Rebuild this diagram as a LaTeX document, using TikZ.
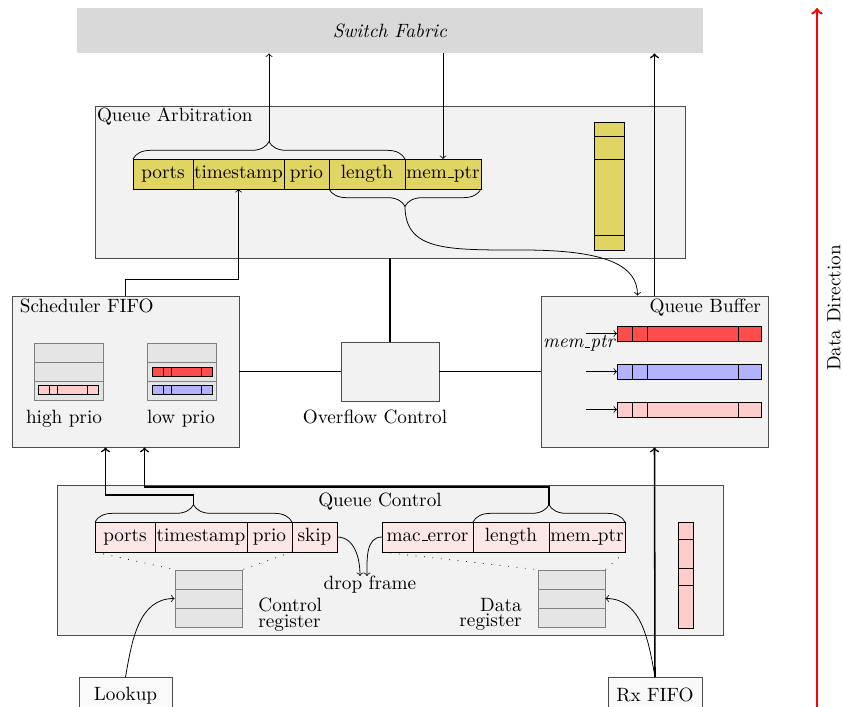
\documentclass[tikz,border=0pt]{standalone}
\usepackage{xcolor}
\usepackage{tikz}
\usetikzlibrary{calc, positioning, decorations.pathreplacing}

%colours
\definecolor{fieldyellow}{RGB}{224,212,98}
\definecolor{fieldpink}{RGB}{253,230,230}

%one pixel of the layout grid
\def\px{0.52pt}

%short low rule for field names
\newcommand{\uscore}{\leavevmode\kern.06em\vbox{\hrule width.3em}}

%ticks across a packet bar (node, offsets from its west side)
\newcommand{\packetticks}[2]{%
	\foreach \off in {#2} \draw ($(#1.north west)+(\off,0)$) -- ($(#1.south west)+(\off,0)$);%
}
%rows across an upright queue (node, offsets from its top)
\newcommand{\queuerows}[2]{%
	\foreach \off in {#2} \draw ($(#1.north west)+(0,\off)$) -- ($(#1.north east)+(0,\off)$);%
}

\tikzset{
	block/.style = {draw=black!70, fill=gray!10, inner sep=0pt},
	afield/.style = {draw, fill=fieldyellow, inner sep=0pt, outer sep=0pt, minimum height=30*\px},
	cfield/.style = {draw, fill=fieldpink, inner sep=0pt, outer sep=0pt, minimum height=30*\px},
	reg/.style = {draw=gray, fill=gray!20, minimum height=19*\px, inner sep=0pt},
	packet/.style = {draw, inner sep=0pt, outer sep=0pt},
	brace/.style = {decorate, decoration={brace, amplitude=9pt}},
	bus/.style = {thick},
	io/.style = {draw=black!70, fill=gray!5, minimum height=36*\px, anchor=north}
}

\begin{document}
\begin{tikzpicture}[x=\px, y=-\px]
		\useasboundingbox (0,0) rectangle (843,707);
		
		%switch fabric
		\node[fill=gray!30, minimum width=626*\px, minimum height=45*\px] (fabric) at (390,30.5) {\textit{Switch Fabric}};
		
		%queue arbitration
		\node[block, minimum width=590*\px, minimum height=152*\px] (qarb) at (390,182) {};
		\node[anchor=north west, inner sep=0pt] (qarbname) at ($(qarb.north west)+(2,2)$) {Queue Arbitration};
		
		\node[afield, anchor=west, minimum width=60*\px] (aports) at (133,174) {ports};
		\node[afield, right=0pt of aports, minimum width=91*\px] (atime) {timestamp};
		\node[afield, right=0pt of atime, minimum width=45*\px] (aprio) {prio};
		\node[afield, right=0pt of aprio, minimum width=76*\px] (alength) {length};
		\node[afield, right=0pt of alength, minimum width=76*\px] (amemptr) {mem\uscore ptr};
		
		\draw[brace] (aports.north west) -- (alength.north east);
		\coordinate (atop) at ($(aports.north west)!0.5!(alength.north east)+(0,-17)$);
		\draw[brace] (amemptr.south east) -- (alength.south west);
		\coordinate (abot) at ($(alength.south west)!0.5!(amemptr.south east)+(0,17)$);
		
		\node[afield, anchor=north, minimum width=30*\px, minimum height=128*\px] (aqueue) at (609,122) {};
		\queuerows{aqueue}{14,37,113}
		
		%scheduler fifo
		\node[block, minimum width=227*\px, minimum height=151*\px] (sched) at (125.5,371.5) {};
		\node[anchor=north west, inner sep=0pt] (schedname) at ($(sched.north west)+(8,3)$) {Scheduler FIFO};
		
		\foreach \i in {1,2,3} {
			\node[reg, minimum width=69*\px] (hi\i) at (68.5,333.5+19*\i) {};
			\node[reg, minimum width=69*\px] (lo\i) at (182,333.5+19*\i) {};
		}
		\node[packet, fill=red!20, minimum width=60*\px, minimum height=9*\px] (hibar) at (68,389.5) {};
		\node[packet, fill=red!70, minimum width=60*\px, minimum height=9*\px] (lobar1) at (182,371.5) {};
		\node[packet, fill=blue!30, minimum width=60*\px, minimum height=9*\px] (lobar2) at (182,389.5) {};
		\packetticks{hibar}{11,19,49}
		\packetticks{lobar1}{11,19,49}
		\packetticks{lobar2}{11,19,49}
		\node (hiname) at (64,419) {high prio};
		\node (loname) at (181,419) {low prio};
		
		%overflow control
		\node[block, minimum width=98*\px, minimum height=59*\px] (ovf) at (390,371.5) {};
		\node (ovfname) at (375,417) {Overflow Control};
		
		%queue buffer
		\node[block, minimum width=227*\px, minimum height=151*\px] (qbuf) at (654.5,371.5) {};
		\node[anchor=north east, inner sep=0pt] (qbufname) at ($(qbuf.north east)+(-7,3)$) {Queue Buffer};
		\coordinate (qbin) at ($(qbuf.north)+(-17,0)$);
		
		\foreach \i/\col in {1/red!70, 2/blue!30, 3/red!20} {
			\node[packet, fill=\col, anchor=west, minimum width=144*\px, minimum height=15*\px] (buf\i) at (617,295.5+38*\i) {};
			\packetticks{buf\i}{15,30,121}
			\draw[->] ($(buf\i.west)+(-31,0)$) -- (buf\i.west);
		}
		\node[anchor=north east, inner sep=1pt, font=\itshape] (mptr) at (buf1.west) {mem\uscore ptr};
		
		%queue control
		\node[block, minimum width=666*\px, minimum height=150*\px] (qctrl) at (390,560) {};
		\node (qctrlname) at (380,502) {Queue Control};
		
		\node[cfield, anchor=west, minimum width=60*\px] (cports) at (95,537) {ports};
		\node[cfield, right=0pt of cports, minimum width=92*\px] (ctime) {timestamp};
		\node[cfield, right=0pt of ctime, minimum width=45*\px] (cprio) {prio};
		\node[cfield, right=0pt of cprio, minimum width=45*\px] (cskip) {skip};
		
		\node[cfield, anchor=west, minimum width=91*\px] (cmac) at (382,537) {mac\uscore error};
		\node[cfield, right=0pt of cmac, minimum width=76*\px] (clength) {length};
		\node[cfield, right=0pt of clength, minimum width=76*\px] (cmemptr) {mem\uscore ptr};
		
		\draw[brace] (cports.north west) -- (cprio.north east);
		\coordinate (ctop1) at ($(cports.north west)!0.5!(cprio.north east)+(0,-17)$);
		\draw[brace] (clength.north west) -- (cmemptr.north east);
		\coordinate (ctop2) at ($(clength.north west)!0.5!(cmemptr.north east)+(0,-17)$);
		
		\node[inner sep=0pt] (drop) at (370,585) {drop frame};
		
		%registers
		\foreach \i in {1,2,3} {
			\node[reg, minimum width=67*\px] (creg\i) at (208.5,560.5+19*\i) {};
			\node[reg, minimum width=67*\px] (dreg\i) at (571.5,560.5+19*\i) {};
		}
		\node[anchor=north west, align=left, inner sep=0pt] (cregname) at (258,598) {Control\\[-4pt]register};
		\node[anchor=north east, align=right, inner sep=0pt] (dregname) at (522,598) {Data\\[-4pt]register};
		
		\draw[loosely dotted] (cports.south west) -- (creg1.north west);
		\draw[loosely dotted] (cprio.south east) -- (creg1.north east);
		\draw[loosely dotted] (cmac.south west) -- (dreg1.north west);
		\draw[loosely dotted] (cmemptr.south east) -- (dreg1.north east);
		
		\node[fill=red!20, draw, inner sep=0pt, anchor=north, minimum width=15*\px, minimum height=106*\px] (cqueue) at (685.5,522) {};
		\queuerows{cqueue}{17,46,63}
		
		%inputs
		\node[io, minimum width=93*\px] (lookup) at (125.5,677) {Lookup};
		\node[io, minimum width=94*\px] (rxfifo) at (655,677) {Rx FIFO};
		
		%connections
		\draw[->] (atop) -- (atop |- fabric.south);
		\draw[->] (fabric.south -| amemptr) -- (amemptr.north);
		\coordinate (abend) at (522,250);
		\draw[->] (abot) .. controls +(0,45) and +(-75,0) .. (abend) .. controls +(85,0) and +(0,-30) .. (qbin);
		\draw[->] (sched.north) -- ++(0,-16) -| (atime.south);
		
		\draw[bus] (qarb.south) -- (ovf.north);
		\draw[bus] (sched.east) -- (ovf.west);
		\draw[bus] (ovf.east) -- (qbuf.west);
		
		\draw[bus, ->] (ctop1) -- ++(0,-10) -| ($(sched.south)+(-20,0)$);
		\draw[bus, ->] (ctop2) -- ++(0,-18) -| ($(sched.south)+(19,0)$);
		
		\draw[->] (cskip.east) to[out=0, in=90] ($(drop.north)+(-10,0)$);
		\draw[->] (cmac.west) to[out=180, in=90] ($(drop.north)+(-3,0)$);
		
		\draw[->] (lookup.north) to[out=80, in=180] (creg2.west);
		\draw[->] (rxfifo.north) to[out=100, in=0] (dreg2.east);
		
		\draw[bus, ->] (rxfifo.north) -- (qbuf.south);
		\draw[bus, ->] (qbuf.north) -- (qbuf.north |- fabric.south);
		
		%direction of data
		\coordinate (dirbot) at (817,707);
		\coordinate (dirtop) at (817,8);
		\draw[red, very thick, ->] (dirbot) -- (dirtop);
		\node[rotate=90, inner sep=0pt] (dirname) at (834,308) {Data Direction};
	\end{tikzpicture}
\end{document}
